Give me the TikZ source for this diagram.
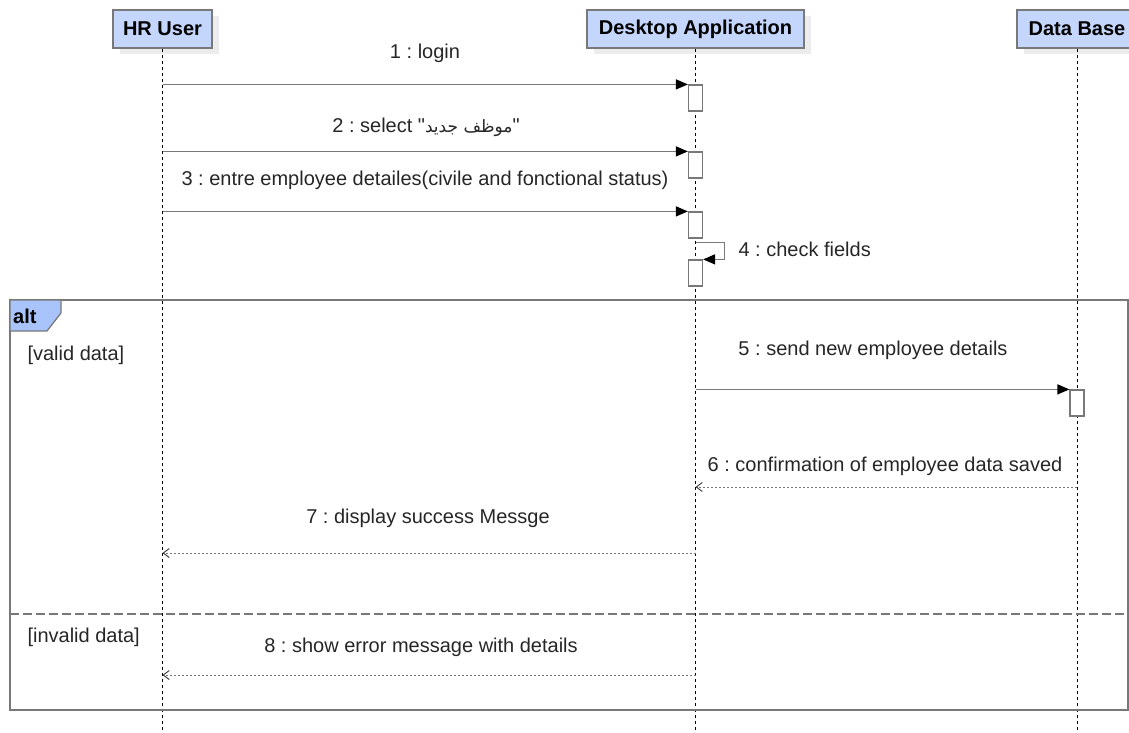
\documentclass[tikz,border=0pt]{standalone}
\usepackage{fontspec}
\setmainfont{Liberation Sans}[Ligatures=TeXOff]
\newfontfamily\arabicfont[Script=Arabic,Scale=0.85]{DejaVu Sans}
\TeXXeTstate=1
\frenchspacing
\usetikzlibrary{arrows.meta,positioning,shadows}

\definecolor{headblue}{RGB}{197,214,252}
\definecolor{altblue}{RGB}{168,196,250}
\definecolor{edgegray}{RGB}{120,120,120}
\definecolor{shadowgray}{RGB}{236,236,236}

\begin{document}
\begin{tikzpicture}[x=1pt,y=-1pt,
                every node/.style={font=\fontsize{20}{24}\selectfont,text=black!85},
                header/.style={draw=edgegray,line width=1.2pt,fill=headblue,minimum height=38pt,inner xsep=0pt,
                    font=\fontsize{20}{24}\selectfont\bfseries,text=black,
                    drop shadow={shadow xshift=7pt,shadow yshift=-6pt,fill=shadowgray,opacity=1}},
                lifeline/.style={black,line width=0.8pt,dash pattern=on 3pt off 3pt},
                actbox/.style={draw=edgegray,fill=white,line width=1.2pt,minimum width=14pt,minimum height=26pt,inner sep=0pt},
                msg/.style={draw=edgegray,line width=1.3pt,-{Triangle[length=12pt,width=10pt,color=black,fill=black]}},
                reply/.style={draw=edgegray,line width=0.9pt,dash pattern=on 2pt off 2pt,-{Straight Barb[length=6pt,width=9pt,line width=0.9pt,color=black!80]}},
                guard/.style={anchor=west,text=black!85},
                framebox/.style={draw=edgegray,line width=1.3pt}]
                \clip (0,0) rectangle (1129,733);

                \node[header,minimum width=99pt]  (hr) at (162.5,29) {HR User};
                \node[header,minimum width=217pt] (da) at (695.5,29) {Desktop Application};
                \node[header,minimum width=120pt] (db) at (1077,29)  {Data Base};

                \draw[lifeline] (hr.south) -- (hr.south |- 0,733);
                \draw[lifeline] (da.south) -- (da.south |- 0,733);
                \draw[lifeline] (db.south) -- (db.south |- 0,733);

                \node[actbox] (act1) at (695.5,98)  {};
                \node[actbox] (act2) at (695.5,165) {};
                \node[actbox] (act3) at (695.5,225) {};
                \node[actbox] (act4) at (695.5,273) {};
                \node[actbox] (act5) at (1077,403)  {};

                \draw[msg] (hr.south |- act1.north) -- (act1.north west);
                \node (m1) at (425,53) {1 : login};
                \draw[msg] (hr.south |- act2.north) -- (act2.north west);
                \node (m2) at (426,127) {2 : select "{\arabicfont\beginR موظف جديد\endR}"};
                \draw[msg] (hr.south |- act3.north) -- (act3.north west);
                \node (m3) at (425,180) {3 : entre employee detailes(civile and fonctional status)};
                \draw[msg] (act3.south) ++(0,4) -- ++(29,0) |- (act4.north east);
                \node[anchor=west] (m4) at (735,249) {4 : check fields};

                \draw[framebox] (10,300) rectangle (1128,710);
                \draw[framebox,fill=altblue] (10,300) -- (61,300) -- (61,313) -- (47,331) -- (10,331) -- cycle;
                \node[anchor=west,inner sep=0pt,font=\fontsize{20}{24}\selectfont\bfseries,text=black] (alttag) at (13,316) {alt};
                \node[guard] (valid) at (24,355) {[valid data]};

                \draw[msg] (da.south |- act5.north) -- (act5.north west);
                \node (m5) at (873,350) {5 : send new employee details};

                \coordinate (db6) at (db.south |- 0,487);
                \coordinate (da6) at (da.south |- 0,487);
                \draw[reply] (db6) -- (da6);
                \node (m6) at (885,466) {6 : confirmation of employee data saved};

                \coordinate (da7) at (da.south |- 0,553);
                \coordinate (hr7) at (hr.south |- 0,553);
                \draw[reply] (da7) -- (hr7);
                \node (m7) at (428,518) {7 : display success Messge};

                \draw[edgegray,line width=1.2pt,dash pattern=on 9pt off 4pt] (10,614) -- (1128,614);
                \node[guard] (invalid) at (24,637) {[invalid data]};

                \coordinate (da8) at (da.south |- 0,675);
                \coordinate (hr8) at (hr.south |- 0,675);
                \draw[reply] (da8) -- (hr8);
                \node (m8) at (421,647) {8 : show error message with details};
            \end{tikzpicture}
\end{document}
